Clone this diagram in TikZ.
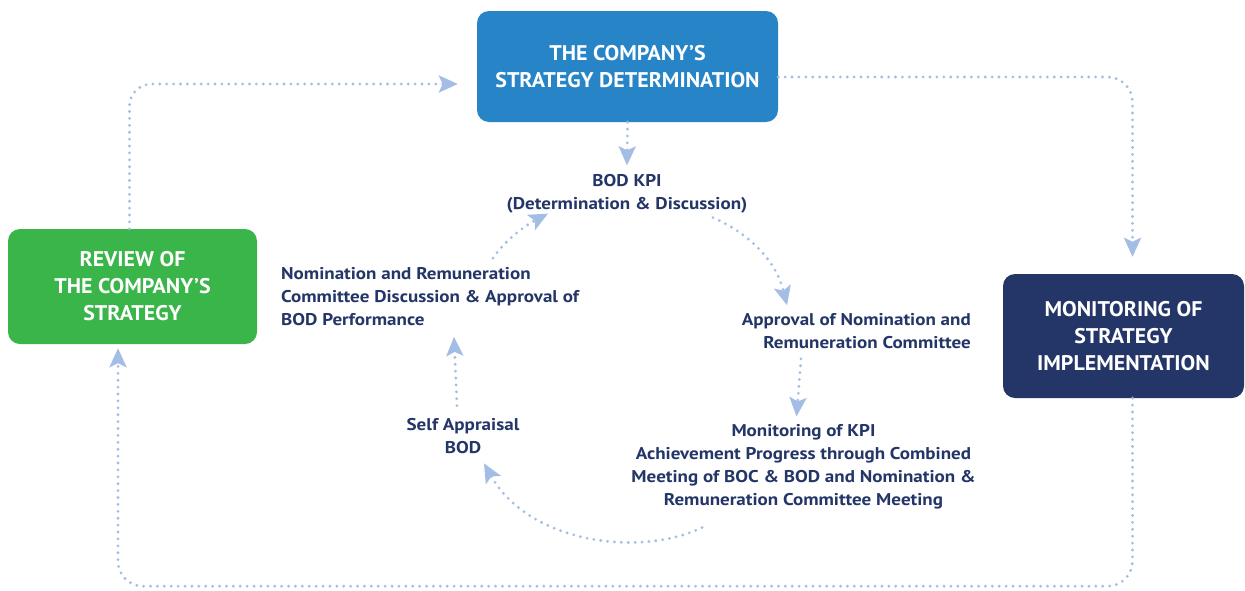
\documentclass[tikz,border=0pt]{standalone}
\usepackage{fontspec}
\setmainfont{PT Sans}
\newfontfamily\boxfont[FakeStretch=1.035]{PT Sans}
\newfontfamily\lblfont[FakeStretch=1.12]{PT Sans}
\usetikzlibrary{arrows.meta,calc}
\definecolor{cblue}{HTML}{2785C7}
\definecolor{cgreen}{HTML}{3AB54A}
\definecolor{cnavy}{HTML}{243668}
\definecolor{cline}{HTML}{A3BDE5}
\tikzset{
  bigbox/.style={rounded corners=12pt, inner sep=0pt, align=center, text=white,
    font=\boxfont\fontsize{21.2}{27}\selectfont\bfseries},
  lbl/.style={inner sep=0pt, text=cnavy, font=\lblfont\fontsize{17}{23}\selectfont\bfseries},
  conn/.style={draw=cline, line width=3.1pt, dash pattern=on 0pt off 6.9pt, line cap=round,
    -{Stealth[length=19pt,width=17pt,inset=4pt,fill=cline,color=cline]}},
}
\begin{document}
\begin{tikzpicture}[x=1pt,y=-1pt]
\fill[white] (0,0) rectangle (1245,590);
\useasboundingbox (0,0) rectangle (1245,590);

\node[bigbox, fill=cblue, minimum width=301pt, minimum height=111pt] (top) at (627.5,66.5)
  {THE COMPANY’S\\STRATEGY DETERMINATION};
\node[bigbox, fill=cgreen, minimum width=249pt, minimum height=115pt] (green) at (132.5,286.5)
  {REVIEW OF\\THE COMPANY’S\\STRATEGY};
\node[bigbox, fill=cnavy, minimum width=241pt, minimum height=124pt] (navy) at (1123.5,336)
  {MONITORING OF\\STRATEGY\\IMPLEMENTATION};

\node[lbl, align=center] (kpi) at (627,194) {BOD KPI\\(Determination \& Discussion)};
\node[lbl, align=right, anchor=east] (appr) at (971,331) {Approval of Nomination and\\Remuneration Committee};
\node[lbl, align=center] (mon) at (803.5,467) {Monitoring of KPI\\Achievement Progress through Combined\\Meeting of BOC \& BOD and Nomination \&\\Remuneration Committee Meeting};
\node[lbl, align=center] (self) at (463,436.5) {Self Appraisal\\BOD};
\node[lbl, align=left, anchor=west] (nom) at (281,296.5) {Nomination and Remuneration\\Committee Discussion \& Approval of\\BOD Performance};

% outer loop
\draw[conn, rounded corners=22pt] ($(green.north)+(-3,0)$) |- ($(top.west)+(-19,17.5)$);
\draw[conn, rounded corners=25pt] ($(top.east)+(0,10.5)$) -| ($(navy.north)+(9,-17)$);
\draw[conn, rounded corners=25pt] ($(navy.south)+(9,0)$) -- ++(0,188) -| ($(green.south)+(-14.5,4)$);

% inner cycle
\draw[conn] (top.south) -- ($(kpi.north)+(0,-9)$);
\draw[conn] ($(kpi.south)+(86,4)$) .. controls +(32,14) and +(-12,-48) .. ($(appr.north east)+(-184,-8)$);
\draw[conn] ($(appr.south east)+(-170,10)$) -- ($(mon.north)+(-7,-8)$);
\draw[conn] ($(mon.south)+(-101.5,18)$) .. controls +(-62,30) and +(45,80) .. ($(self.south)+(21,9)$);
\draw[conn] ($(self.north)+(-6,-13)$) -- ($(nom.south west)+(173,11)$);
\draw[conn] ($(nom.north west)+(212,-9)$) .. controls +(12,-18) and +(-23,12) .. ($(kpi.south)+(-79,0)$);
\end{tikzpicture}
\end{document}
